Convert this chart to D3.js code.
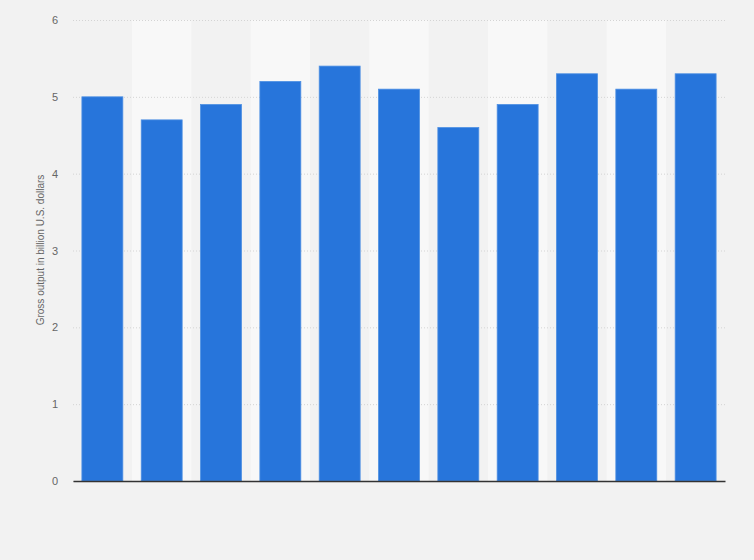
<!DOCTYPE html>
<html>
<head>
<meta charset="utf-8">
<script src="https://cdn.jsdelivr.net/npm/d3@7"></script>
<style>
  body { margin: 0; background: #f2f2f2; }
  svg { display: block; font-family: "Liberation Sans", Arial, sans-serif; }
</style>
</head>
<body>
<div class="vis-barchart"></div>
<script>
// x labels are not shown in the picture, so categories are just positions
const categories = ["1", "2", "3", "4", "5", "6", "7", "8", "9", "10", "11"];
const values = [5.0, 4.7, 4.9, 5.2, 5.4, 5.1, 4.6, 4.9, 5.3, 5.1, 5.3];
const yTicks = [0, 1, 2, 3, 4, 5, 6];
const yLabel = "Gross output in billion U.S. dollars";

const W = 754, H = 560;
const margin = { top: 20, right: 29, bottom: 79, left: 73 };
const width = W - margin.left - margin.right;
const height = H - margin.top - margin.bottom;

const root = d3.select('.vis-barchart').append('svg')
    .attr('width', W)
    .attr('height', H);

root.append('rect')
    .attr('width', W).attr('height', H)
    .attr('fill', '#f2f2f2');

const svg = root.append('g')
    .attr('transform', 'translate(' + margin.left + ',' + margin.top + ')');

// Scales
const x = d3.scaleBand()
    .domain(categories)
    .range([0, width])
    .paddingInner(0.31)
    .paddingOuter(0.15);
const y = d3.scaleLinear()
    .domain([0, 6])
    .range([height, 0]);

// alternating column shading
const step = x.step();
svg.selectAll('.band')
    .data(categories.filter((d, i) => i % 2 === 1))
    .enter().append('rect')
    .attr('class', 'band')
    .attr('x', d => x(d) + x.bandwidth() / 2 - step / 2)
    .attr('width', step)
    .attr('y', 0)
    .attr('height', height)
    .attr('fill', '#f8f8f8');

// Grid lines + tick labels
const yAxis = svg.append('g')
    .call(d3.axisLeft(y).tickValues(yTicks).tickFormat(d3.format('d'))
        .tickSize(-width).tickPadding(15));
yAxis.select('.domain').remove();
yAxis.selectAll('.tick line')
    .attr('stroke', '#d4d4d4')
    .attr('stroke-dasharray', '1,2');
yAxis.selectAll('.tick text')
    .attr('fill', '#666')
    .style('font-size', '11px');

// Bars
svg.selectAll('.bar')
    .data(values)
    .enter().append('rect')
    .attr('class', 'bar')
    .attr('x', (d, i) => x(categories[i]))
    .attr('width', x.bandwidth())
    .attr('y', d => y(d))
    .attr('height', d => height - y(d))
    .attr('fill', '#2775db')
    .attr('stroke', '#4d8fe3')
    .attr('stroke-width', 0.8);

// X axis baseline
svg.append('g')
    .attr('transform', 'translate(0,' + height + ')')
    .call(d3.axisBottom(x).tickSize(0).tickFormat(''))
    .select('.domain')
    .attr('stroke', '#333')
    .attr('stroke-width', 1.3);

// Y axis label
svg.append('text')
    .attr('text-anchor', 'middle')
    .attr('transform', 'rotate(-90)')
    .attr('x', -(250 - margin.top))
    .attr('y', 40 - margin.left + 4)
    .attr('fill', '#666')
    .style('font-size', '10px')
    .text(yLabel);
</script>
</body>
</html>
